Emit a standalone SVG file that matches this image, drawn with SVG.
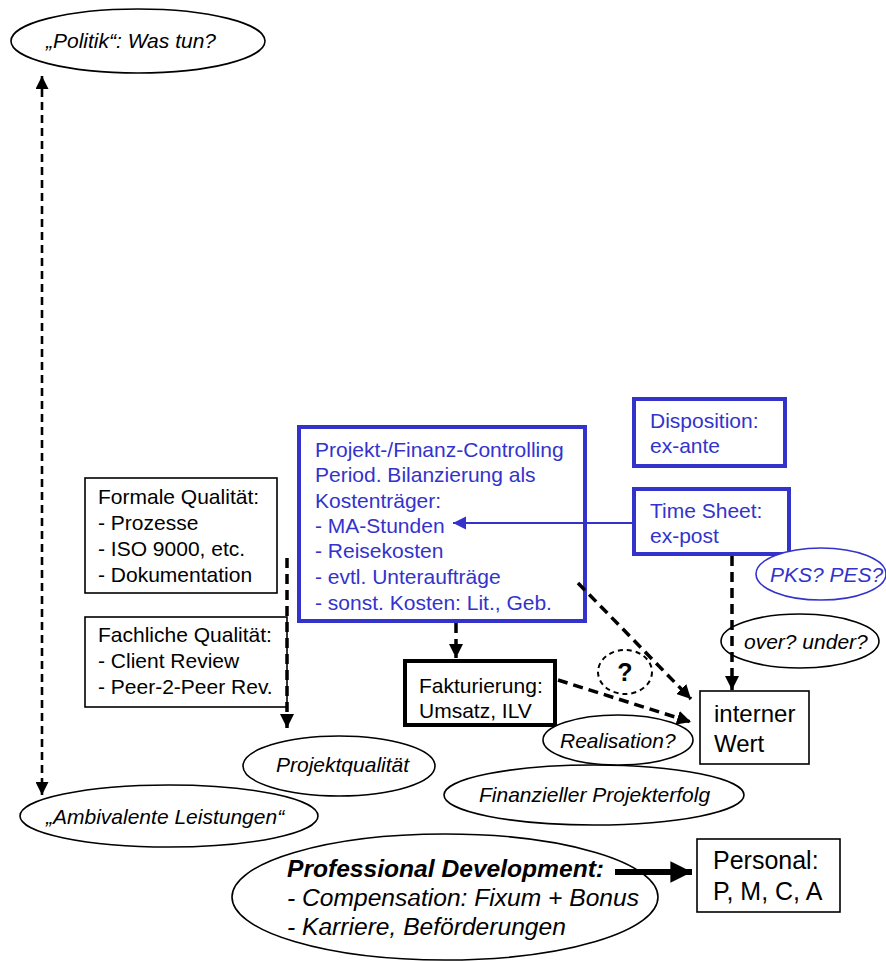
<svg xmlns="http://www.w3.org/2000/svg" width="886" height="961" viewBox="0 0 886 961">
<defs>
<style>
text{font-family:"Liberation Sans",Arial,sans-serif;font-size:21px;fill:#000}
.it{font-style:italic}
.bl{fill:#3333cc}
.big{font-size:24px}
.pers{font-size:25px}
.pd{font-size:24.6px}
.ell{fill:#fff;stroke:#000;stroke-width:1.6}
.box{fill:#fff;stroke:#000;stroke-width:1.6}
.bbox{fill:#fff;stroke:#3333cc;stroke-width:4}
.dash{fill:none;stroke:#000;stroke-width:3.5;stroke-dasharray:10 6}
</style>
<marker id="ah" viewBox="0 0 10 10" refX="10" refY="5" markerWidth="4" markerHeight="4" orient="auto" markerUnits="strokeWidth">
<path d="M0,0 L10,5 L0,10 z" fill="#000"/>
</marker>
<marker id="ahs" viewBox="0 0 10 10" refX="10" refY="5" markerWidth="5" markerHeight="5" orient="auto-start-reverse" markerUnits="strokeWidth">
<path d="M0,0 L10,5 L0,10 z" fill="#000"/>
</marker>
<marker id="ahb" viewBox="0 0 10 10" refX="10" refY="5" markerWidth="6" markerHeight="6" orient="auto" markerUnits="strokeWidth">
<path d="M0,0 L10,5 L0,10 z" fill="#3333cc"/>
</marker>
<marker id="aht" viewBox="0 0 10 10" refX="10" refY="5" markerWidth="3.6" markerHeight="3.6" orient="auto" markerUnits="strokeWidth">
<path d="M0,0 L10,5 L0,10 z" fill="#000"/>
</marker>
</defs>
<rect width="886" height="961" fill="#fff"/>

<g id="politik">
<ellipse cx="138" cy="41" rx="127" ry="32" class="ell"/>
<text x="46" y="48" class="it">„Politik“: Was tun?</text>
</g>

<g id="formale">
<rect x="85" y="478" width="192" height="115" class="box"/>
<text x="98" y="504">Formale Qualität:</text>
<text x="98" y="530">- Prozesse</text>
<text x="98" y="556">- ISO 9000, etc.</text>
<text x="98" y="582">- Dokumentation</text>
</g>

<g id="fachliche">
<rect x="85" y="617" width="202" height="90" class="box"/>
<text x="98" y="642">Fachliche Qualität:</text>
<text x="98" y="668">- Client Review</text>
<text x="98" y="694">- Peer-2-Peer Rev.</text>
</g>

<g id="controlling">
<rect x="299" y="427" width="286" height="194" class="bbox"/>
<text class="bl" x="315" y="457">Projekt-/Finanz-Controlling</text>
<text class="bl" x="315" y="482">Period. Bilanzierung als</text>
<text class="bl" x="315" y="508">Kostenträger:</text>
<text class="bl" x="315" y="533">- MA-Stunden</text>
<text class="bl" x="315" y="558">- Reisekosten</text>
<text class="bl" x="315" y="584">- evtl. Unteraufträge</text>
<text class="bl" x="315" y="610">- sonst. Kosten: Lit., Geb.</text>
</g>

<g id="disposition">
<rect x="634" y="399" width="151" height="67" class="bbox"/>
<text class="bl" x="650" y="428">Disposition:</text>
<text class="bl" x="650" y="453">ex-ante</text>
</g>

<g id="timesheet">
<rect x="634" y="489" width="155" height="65" class="bbox"/>
<text class="bl" x="650" y="518">Time Sheet:</text>
<text class="bl" x="650" y="543">ex-post</text>
</g>

<g id="pks">
<ellipse cx="821" cy="574" rx="65" ry="26" fill="#fff" stroke="#3333cc" stroke-width="1.6"/>
<text class="it bl" x="770" y="582">PKS? PES?</text>
</g>

<g id="overunder">
<ellipse cx="800" cy="641" rx="79" ry="27" class="ell"/>
<text class="it" x="744" y="649">over? under?</text>
</g>

<g id="fakturierung">
<rect x="405" y="661" width="150" height="64" fill="#fff" stroke="#000" stroke-width="4"/>
<text x="419" y="693">Fakturierung:</text>
<text x="419" y="718">Umsatz, ILV</text>
</g>

<g id="frage">
<ellipse cx="625" cy="672" rx="27" ry="22" fill="none" stroke="#000" stroke-width="2" stroke-dasharray="5 4"/>
<text x="625" y="681" text-anchor="middle" font-weight="bold" style="font-size:25px">?</text>
</g>

<g id="interner">
<rect x="700" y="691" width="109" height="73" class="box"/>
<text class="big" x="714" y="722">interner</text>
<text class="big" x="714" y="752">Wert</text>
</g>

<g id="projektqualitaet">
<ellipse cx="339" cy="766" rx="96" ry="30" class="ell"/>
<text class="it" x="276" y="772">Projektqualität</text>
</g>

<g id="finanzieller">
<ellipse cx="594" cy="795" rx="150" ry="30" class="ell"/>
<text class="it" x="479" y="802">Finanzieller Projekterfolg</text>
</g>

<g id="realisation">
<ellipse cx="618" cy="740" rx="75" ry="25" class="ell"/>
<text class="it" x="560" y="748">Realisation?</text>
</g>

<g id="ambivalente">
<ellipse cx="169" cy="816" rx="149" ry="31" class="ell"/>
<text class="it" x="46" y="824">„Ambivalente Leistungen“</text>
</g>

<g id="professional">
<ellipse cx="445" cy="897" rx="213" ry="63" class="ell"/>
<text class="it pd" x="287" y="877" font-weight="bold">Professional Development:</text>
<text class="it pd" x="287" y="906">- Compensation: Fixum + Bonus</text>
<text class="it pd" x="287" y="935">- Karriere, Beförderungen</text>
</g>

<g id="personal">
<rect x="697" y="839" width="143" height="73" class="box"/>
<text class="pers" x="713" y="869">Personal:</text>
<text class="pers" x="713" y="900">P, M, C, A</text>
</g>

<g id="connectors">
<line x1="42" y1="76" x2="42" y2="795" fill="none" stroke="#000" stroke-width="2.6" stroke-dasharray="8 5" marker-start="url(#ahs)" marker-end="url(#ahs)"/>
<line x1="287" y1="558" x2="287" y2="728" class="dash" marker-end="url(#ah)"/>
<line x1="456" y1="623" x2="456" y2="658" class="dash" marker-end="url(#ah)"/>
<line x1="578" y1="583" x2="691" y2="699" class="dash" marker-end="url(#ah)"/>
<line x1="558" y1="680" x2="691" y2="722" class="dash" marker-end="url(#ah)"/>
<line x1="732" y1="556" x2="732" y2="690" class="dash" marker-end="url(#ah)"/>
<line x1="632" y1="523" x2="453" y2="523" stroke="#3333cc" stroke-width="2.2" marker-end="url(#ahb)"/>
<line x1="615" y1="872" x2="692" y2="872" stroke="#000" stroke-width="6" marker-end="url(#aht)"/>
</g>
</svg>
